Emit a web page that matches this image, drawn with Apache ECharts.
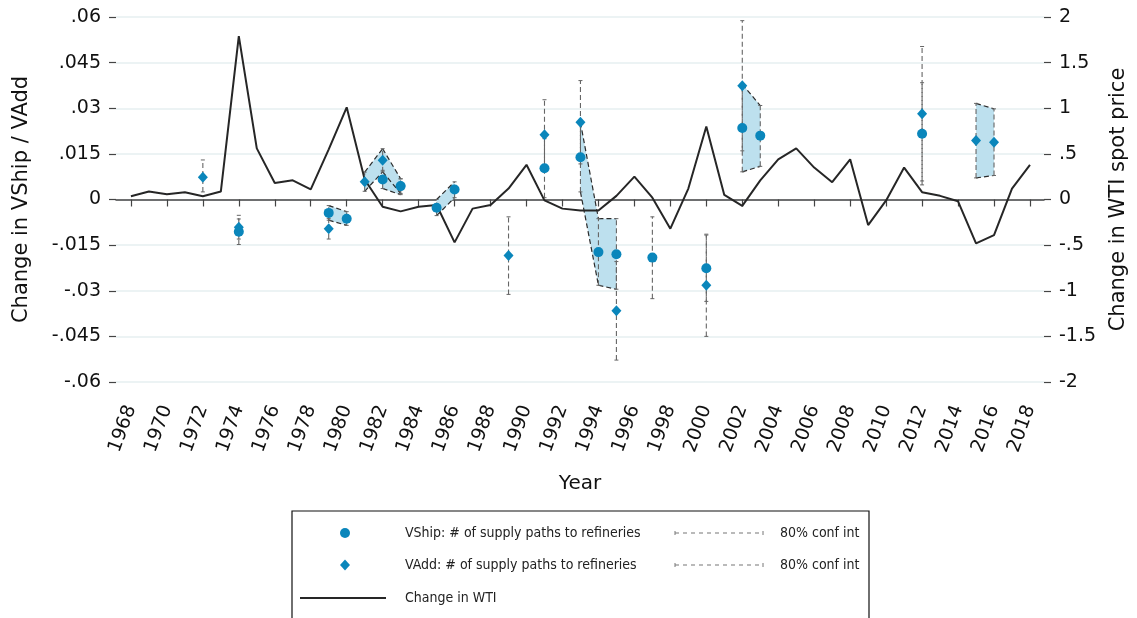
<!DOCTYPE html>
<html lang="en">
<head>
<meta charset="UTF-8">
<title>VShip / VAdd and WTI</title>
<style>
    body { margin: 0; background: #fff; }
    #chart { width: 1137px; height: 618px; }
</style>
<script src="https://cdn.jsdelivr.net/npm/echarts@6/dist/echarts.min.js"></script>
</head>
<body>
<div id="chart"></div>
<script>
// change in WTI spot price, right axis
var wtiYears = [1968,1969,1970,1971,1972,1973,1974,1975,1976,1977,1978,1979,1980,1981,1982,1983,1984,1985,1986,1987,
    1988,1989,1990,1991,1992,1993,1994,1995,1996,1997,1998,1999,2000,2001,2002,2003,2004,2005,2006,2007,
    2008,2009,2010,2011,2012,2013,2014,2015,2016,2017,2018];
var wtiChange = [0.036,0.087,0.058,0.08,0.036,0.087,1.79,0.56,0.18,0.21,0.11,0.55,1.01,0.22,-0.08,-0.13,-0.08,-0.06,-0.47,-0.10,
    -0.06,0.12,0.38,-0.01,-0.10,-0.12,-0.12,0.04,0.25,0.02,-0.32,0.12,0.80,0.05,-0.07,0.21,0.44,0.56,0.35,0.19,
    0.44,-0.28,-0.01,0.35,0.08,0.04,-0.02,-0.48,-0.39,0.12,0.38];

// VShip estimates with 80% CI
var shipYears = [1974,1979,1980,1982,1983,1985,1986,1991,1993,1994,1995,1997,2000,2002,2003,2012];
var shipVal = [-0.0106,-0.0044,-0.0063,0.0066,0.0044,-0.0027,0.0033,0.0103,0.0139,-0.0173,-0.018,-0.0191,-0.0226,0.0235,0.021,0.0216];
var shipLo = [-0.0148,-0.0068,-0.0085,0.0036,0.0016,-0.0053,0.0006,0.0006,0.0025,-0.0282,-0.0295,-0.0326,-0.0335,0.0091,0.0109,0.0048];
var shipHi = [-0.0064,-0.002,-0.004,0.0096,0.0068,0.0,0.0058,0.02,0.0253,-0.0063,-0.0063,-0.0057,-0.0117,0.0379,0.0309,0.0384];

// VAdd estimates with 80% CI
var addYears = [1972,1974,1979,1981,1982,1983,1989,1991,1993,1995,2000,2002,2012,2015,2016];
var addVal = [0.0073,-0.0091,-0.0096,0.0058,0.0129,0.0044,-0.0184,0.0213,0.0254,-0.0366,-0.0282,0.0374,0.0282,0.0194,0.0188];
var addLo = [0.0025,-0.013,-0.013,0.0027,0.0091,0.002,-0.0312,0.0098,0.0117,-0.0528,-0.045,0.016,0.0061,0.0071,0.0079];
var addHi = [0.013,-0.0052,-0.0062,0.009,0.0167,0.0068,-0.0057,0.0328,0.0391,-0.0204,-0.0114,0.0588,0.0503,0.0316,0.0298];

var yearTicks = [1968,1970,1972,1974,1976,1978,1980,1982,1984,1986,1988,1990,1992,1994,1996,1998,2000,2002,2004,2006,2008,2010,2012,2014,2016,2018];
var leftTicks = [-0.06,-0.045,-0.03,-0.015,0,0.015,0.03,0.045,0.06];
var leftTickLabels = ['-.06','-.045','-.03','-.015','0','.015','.03','.045','.06'];
var rightTicks = [-2,-1.5,-1,-0.5,0,0.5,1,1.5,2];
var rightTickLabels = ['-2','-1.5','-1','-.5','0','.5','1','1.5','2'];

var FONT = 'DejaVu Sans';
var FONT_C = '"DejaVu Sans Condensed", "DejaVu Sans"';
var BLUE = '#0a86bb';
var BAND = '#bde0ee';

function tickLabel(ticks, labels) {
    return function (v) {
        for (var i = 0; i < ticks.length; i++) {
            if (Math.abs(ticks[i] - v) < 1e-9) return labels[i];
        }
        return '';
    };
}

function bandSeries(years, lo, hi) {
    return {
        type: 'custom', yAxisIndex: 0, z: 1, silent: true,
        encode: {x: 0, y: [1, 2]},
        data: years.map(function (y, i) { return [y, lo[i], hi[i]]; }),
        renderItem: function (params, api) {
            var i = params.dataIndex;
            if (i + 1 >= years.length || years[i + 1] !== years[i] + 1) return null;
            var a = api.coord([years[i], hi[i]]);
            var b = api.coord([years[i + 1], hi[i + 1]]);
            var c = api.coord([years[i + 1], lo[i + 1]]);
            var d = api.coord([years[i], lo[i]]);
            var edge = {stroke: '#2b2b2b', lineWidth: 1.2, lineDash: [5, 3]};
            return {type: 'group', children: [
                {type: 'polygon', shape: {points: [a, b, c, d]}, style: {fill: BAND}},
                {type: 'line', shape: {x1: a[0], y1: a[1], x2: b[0], y2: b[1]}, style: edge},
                {type: 'line', shape: {x1: d[0], y1: d[1], x2: c[0], y2: c[1]}, style: edge}
            ]};
        }
    };
}

function whiskerSeries(years, lo, hi) {
    return {
        type: 'custom', yAxisIndex: 0, z: 3, silent: true,
        encode: {x: 0, y: [1, 2]},
        data: years.map(function (y, i) { return [y, lo[i], hi[i]]; }),
        renderItem: function (params, api) {
            var x = api.value(0);
            var p1 = api.coord([x, api.value(1)]);
            var p2 = api.coord([x, api.value(2)]);
            var cap = {stroke: '#666', lineWidth: 1};
            return {type: 'group', children: [
                {type: 'line', shape: {x1: p1[0], y1: p1[1], x2: p2[0], y2: p2[1]},
                    style: {stroke: '#666', lineWidth: 1.1, lineDash: [5, 3]}},
                {type: 'line', shape: {x1: p1[0] - 2, y1: p1[1], x2: p1[0] + 2, y2: p1[1]}, style: cap},
                {type: 'line', shape: {x1: p2[0] - 2, y1: p2[1], x2: p2[0] + 2, y2: p2[1]}, style: cap}
            ]};
        }
    };
}

var chart = echarts.init(document.getElementById('chart'));
var option = {
    backgroundColor: '#fff',
    animation: false,
    grid: {left: 116, right: 93, top: 17, bottom: 236},
    xAxis: {
        type: 'value', min: 1967.17, max: 2018.78,
        offset: 14,
        name: 'Year', nameLocation: 'middle', nameGap: 78,
        nameTextStyle: {fontFamily: FONT, fontSize: 20, color: '#111'},
        axisLine: {lineStyle: {color: '#444', width: 1.5}},
        axisTick: {customValues: yearTicks, length: 7, lineStyle: {color: '#444', width: 1.2}},
        axisLabel: {customValues: yearTicks, rotate: 70, margin: 10, fontFamily: FONT, fontSize: 19, color: '#111',
            formatter: function (v) { return String(v); }},
        splitLine: {show: false}
    },
    yAxis: [{
        type: 'value', min: -0.06, max: 0.06, interval: 0.015, position: 'left',
        name: 'Change in VShip / VAdd', nameLocation: 'middle', nameRotate: 90, nameGap: 84,
        nameTextStyle: {fontFamily: FONT, fontSize: 21, color: '#111'},
        axisLine: {show: false},
        axisTick: {show: true, length: 7, lineStyle: {color: '#444', width: 1.2}},
        axisLabel: {margin: 15, fontFamily: FONT, fontSize: 19, color: '#111',
            formatter: tickLabel(leftTicks, leftTickLabels)},
        splitLine: {lineStyle: {color: '#e6eff1', width: 1.6}}
    }, {
        type: 'value', min: -2, max: 2, interval: 0.5, position: 'right',
        name: 'Change in WTI spot price', nameLocation: 'middle', nameRotate: 90, nameGap: 64,
        nameTextStyle: {fontFamily: FONT, fontSize: 21, color: '#111'},
        axisLine: {show: false},
        axisTick: {show: true, length: 7, lineStyle: {color: '#444', width: 1.2}},
        axisLabel: {margin: 15, fontFamily: FONT, fontSize: 19, color: '#111',
            formatter: tickLabel(rightTicks, rightTickLabels)},
        splitLine: {show: false}
    }],
    series: [
        bandSeries(shipYears, shipLo, shipHi),
        bandSeries(addYears, addLo, addHi),
        whiskerSeries(shipYears, shipLo, shipHi),
        whiskerSeries(addYears, addLo, addHi),
        {
            name: 'Change in WTI', type: 'line', yAxisIndex: 1, z: 4,
            data: wtiYears.map(function (y, i) { return [y, wtiChange[i]]; }),
            symbol: 'none', lineStyle: {color: '#262626', width: 2}
        },
        {
            name: 'VShip: # of supply paths to refineries', type: 'scatter', yAxisIndex: 0, z: 5,
            data: shipYears.map(function (y, i) { return [y, shipVal[i]]; }),
            symbol: 'circle', symbolSize: 10, itemStyle: {color: BLUE, opacity: 1}
        },
        {
            name: 'VAdd: # of supply paths to refineries', type: 'scatter', yAxisIndex: 0, z: 5,
            data: addYears.map(function (y, i) { return [y, addVal[i]]; }),
            symbol: 'diamond', symbolSize: [10, 11], itemStyle: {color: BLUE, opacity: 1}
        }
    ],
    graphic: [
        {type: 'rect', shape: {x: 292, y: 511, width: 577, height: 130},
            style: {fill: '#fff', stroke: '#111', lineWidth: 1.2}},
        {type: 'circle', shape: {cx: 345, cy: 533, r: 5}, style: {fill: BLUE}},
        {type: 'text', x: 405, y: 533, style: {text: 'VShip: # of supply paths to refineries',
            font: '14px ' + FONT_C, fill: '#222', verticalAlign: 'middle'}},
        {type: 'line', shape: {x1: 675, y1: 533, x2: 763, y2: 533},
            style: {stroke: '#777', lineWidth: 1, lineDash: [4, 4]}},
        {type: 'line', shape: {x1: 675, y1: 531, x2: 675, y2: 535}, style: {stroke: '#777', lineWidth: 1}},
        {type: 'line', shape: {x1: 763, y1: 531, x2: 763, y2: 535}, style: {stroke: '#777', lineWidth: 1}},
        {type: 'text', x: 780, y: 533, style: {text: '80% conf int',
            font: '14px ' + FONT_C, fill: '#222', verticalAlign: 'middle'}},
        {type: 'polygon', shape: {points: [[345, 559.5], [350, 565], [345, 570.5], [340, 565]]}, style: {fill: BLUE}},
        {type: 'text', x: 405, y: 565, style: {text: 'VAdd: # of supply paths to refineries',
            font: '14px ' + FONT_C, fill: '#222', verticalAlign: 'middle'}},
        {type: 'line', shape: {x1: 675, y1: 565, x2: 763, y2: 565},
            style: {stroke: '#777', lineWidth: 1, lineDash: [4, 4]}},
        {type: 'line', shape: {x1: 675, y1: 563, x2: 675, y2: 567}, style: {stroke: '#777', lineWidth: 1}},
        {type: 'line', shape: {x1: 763, y1: 563, x2: 763, y2: 567}, style: {stroke: '#777', lineWidth: 1}},
        {type: 'text', x: 780, y: 565, style: {text: '80% conf int',
            font: '14px ' + FONT_C, fill: '#222', verticalAlign: 'middle'}},
        {type: 'line', shape: {x1: 300, y1: 598, x2: 386, y2: 598}, style: {stroke: '#262626', lineWidth: 2}},
        {type: 'text', x: 405, y: 598, style: {text: 'Change in WTI',
            font: '14px ' + FONT_C, fill: '#222', verticalAlign: 'middle'}}
    ]
};
chart.setOption(option);
</script>
</body>
</html>
